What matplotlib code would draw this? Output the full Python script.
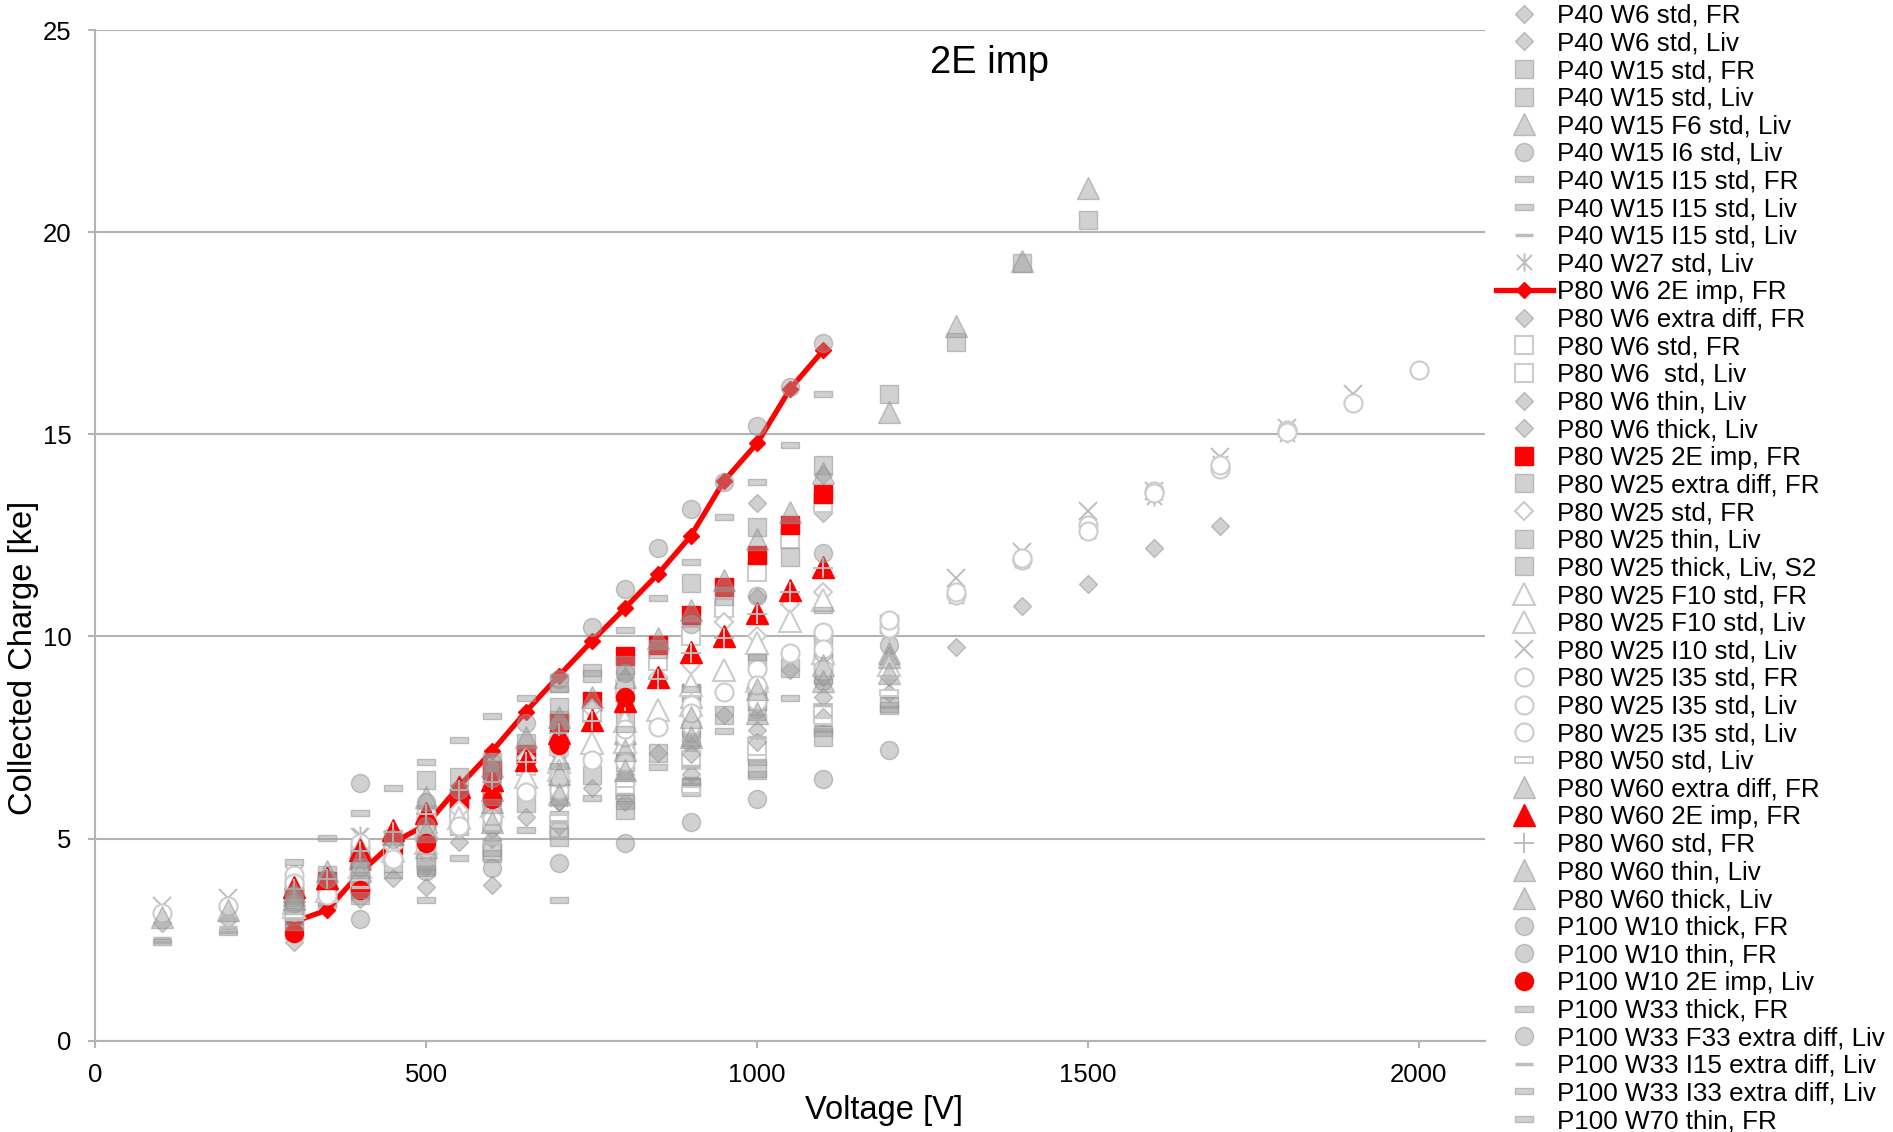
import matplotlib
matplotlib.use('Agg')
import matplotlib.pyplot as plt
from matplotlib.path import Path

plt.rcParams['font.family'] = ['Liberation Sans', 'DejaVu Sans']

# ---------------- data ----------------
V_FR = [300, 350, 400, 450, 500, 550, 600, 650, 700, 750, 800, 850, 900, 950, 1000, 1050, 1100]
V_FR100 = [300, 400, 500, 600, 700, 800, 900, 1000, 1100]
V_FR_EXT = V_FR + [1200, 1300, 1400, 1500]
V_100_1100 = [100, 200, 300, 400, 500, 600, 700, 800, 900, 1000, 1100]
V_100_1200 = [100, 200, 300, 400, 500, 600, 700, 800, 900, 1000, 1100, 1200]
V_300_1100 = [300, 400, 500, 600, 700, 800, 900, 1000, 1100]
V_300_1200 = [300, 400, 500, 600, 700, 800, 900, 1000, 1100, 1200]
V_300_1700 = [300, 400, 500, 600, 700, 800, 900, 1000, 1100, 1200, 1300, 1400, 1500, 1600, 1700]
V_300_1800 = [300, 400, 500, 600, 700, 800, 900, 1000, 1100, 1200, 1300, 1400, 1500, 1600, 1700, 1800]
V_X = [100, 200, 300, 400, 500, 600, 700, 800, 900, 1000, 1100, 1200, 1300, 1400, 1500, 1600, 1700, 1800, 1900]
V_I35B = [300, 400, 500, 600, 700, 800, 900, 1000, 1100, 1200, 1300, 1400, 1500, 1600, 1700, 1800, 2000]
V_2E_LIV = [300, 400, 500, 600, 700, 800]
V_400_1200 = [400, 500, 600, 700, 800, 900, 1000, 1100, 1200]

q_p40_w6_fr = [2.90, 3.45, 3.80, 4.02, 4.30, 4.92, 5.20, 5.54, 5.90, 6.24, 6.60, 7.11, 7.30, 8.06, 8.30, 9.17, 9.00]
q_p40_w6_liv = [2.90, 2.99, 3.40, 4.30, 5.00, 5.80, 7.10, 8.30, 9.90, 13.29, 14.00]
q_p40_w15_fr = [3.10, 3.50, 3.90, 4.40, 4.60, 5.30, 5.40, 5.87, 6.20, 6.57, 6.90, 7.11, 7.50, 8.06, 8.50, 9.21, 9.40]
q_p40_w15_liv = [3.60, 4.40, 5.10, 5.60, 8.26, 7.30, 8.60, 8.40, 9.40]
q_p40_w15_f6_liv = [3.50, 4.50, 5.40, 6.20, 7.00, 7.60, 8.50, 9.00, 9.60, 9.60]
q_p40_w15_i6_liv = [3.30, 4.20, 5.10, 5.50, 6.30, 7.00, 7.60, 8.20, 8.90, 9.80]
q_p40_w15_i15_fr = [2.60, 3.40, 3.60, 4.10, 4.20, 4.51, 4.90, 5.21, 5.60, 6.00, 6.40, 6.78, 7.10, 7.65, 8.00, 8.47, 8.90]
q_p40_w15_i15_liv = [3.00, 3.70, 4.30, 4.80, 5.30, 5.80, 6.30, 6.60, 7.60, 8.30]
q_p40_w15_i15_liv2 = [2.45, 2.70, 2.90, 3.90, 4.50, 5.00, 5.50, 6.10, 6.50, 7.10, 7.80, 8.50]
q_p40_w27_liv = [4.00, 5.09, 5.50, 6.00, 6.40, 7.30, 7.80, 8.60, 9.50, 10.10, 11.00, 11.90, 12.60, 13.45, 14.30, 15.00]
q_p80_w6_2e_fr = [2.94, 3.23, 4.15, 4.90, 5.34, 6.30, 7.17, 8.13, 9.02, 9.88, 10.70, 11.54, 12.49, 13.85, 14.78, 16.13, 17.08]
q_p80_w6_xd_fr = [3.40, 4.50, 5.50, 6.60, 7.70, 9.00, 10.20, 10.98, 13.05]
q_p80_w6_std_fr = [3.30, 3.80, 4.20, 4.60, 5.00, 5.60, 6.00, 6.80, 7.30, 8.10, 8.70, 9.40, 10.00, 10.70, 11.60, 12.40, 13.30]
q_p80_w6_std_liv = [3.20, 3.90, 4.50, 4.70, 5.25, 6.20, 6.95, 7.27, 8.10]
q_p80_w6_thin_liv = [2.45, 3.50, 3.81, 3.85, 5.30, 5.90, 6.60, 7.40, 8.00, 8.60]
q_p80_w6_thick_liv = [3.20, 3.90, 4.40, 5.00, 5.90, 6.50, 7.10, 7.69, 8.51, 9.00, 9.75, 10.75, 11.30, 12.20, 12.72]
q_p80_w25_2e_fr = [3.55, 3.95, 4.45, 4.85, 5.30, 5.95, 6.70, 7.10, 7.85, 8.40, 9.52, 9.78, 10.52, 11.22, 12.01, 12.75, 13.52]
q_p80_w25_xd_fr = [3.70, 4.10, 4.60, 5.00, 6.45, 6.53, 6.90, 7.36, 8.84, 9.10, 9.30, 9.70, 11.31, 11.00, 12.70, 11.97, 14.24, 16.00, 17.29, 19.25, 20.30]
q_p80_w25_std_fr = [3.50, 3.90, 4.40, 4.80, 5.40, 5.70, 6.30, 7.00, 7.20, 8.20, 8.20, 9.00, 9.30, 10.35, 10.00, 10.80, 11.10]
q_p80_w25_thin_liv = [3.80, 4.60, 5.60, 6.10, 7.93, 8.00, 8.60, 9.42, 9.90, 10.30]
q_p80_w25_thick_liv = [2.90, 3.60, 4.30, 4.63, 5.05, 5.71, 6.28, 6.70, 7.52, 8.30]
q_p80_w25_f10_fr = [3.30, 3.70, 4.30, 4.70, 4.90, 5.50, 5.80, 6.53, 6.90, 7.36, 7.90, 8.18, 8.80, 9.17, 9.83, 10.37, 10.90]
q_p80_w25_f10_liv = [3.40, 4.30, 5.30, 5.80, 6.70, 7.40, 8.30, 8.90, 9.60, 9.30]
q_p80_w25_i10_liv = [3.32, 3.52, 4.10, 5.05, 5.30, 5.60, 6.00, 6.80, 7.60, 8.50, 9.30, 10.30, 11.44, 12.10, 13.10, 13.60, 14.45, 15.15, 16.00]
q_p80_w25_i35_fr = [3.20, 3.60, 4.10, 4.50, 4.75, 5.30, 5.60, 6.16, 6.60, 6.94, 7.50, 7.77, 8.30, 8.63, 9.20, 9.58, 10.12]
q_p80_w25_i35_liv = [3.15, 3.32, 4.10, 4.80, 5.20, 5.50, 6.20, 6.90, 7.80, 8.40, 9.20, 10.20, 11.03, 11.90, 12.75, 13.60, 14.15, 15.10, 15.77]
q_p80_w25_i35_liv2 = [3.90, 4.90, 5.60, 6.30, 6.50, 7.70, 8.10, 8.80, 9.70, 10.40, 11.10, 11.95, 12.60, 13.55, 14.25, 15.05, 16.58]
q_p80_w50_liv = [3.10, 4.00, 4.70, 5.25, 5.50, 6.35, 6.20, 7.00, 7.90, 8.60]
q_p80_w60_xd_fr = [3.60, 4.20, 4.80, 5.10, 6.04, 6.30, 6.80, 7.50, 8.00, 8.50, 9.00, 9.95, 10.66, 11.40, 12.40, 13.09, 14.04, 15.56, 17.67, 19.30, 21.10]
q_p80_w60_2e_fr = [3.81, 4.02, 4.72, 5.21, 5.63, 6.28, 6.45, 6.94, 7.62, 7.93, 8.40, 9.00, 9.62, 10.00, 10.57, 11.15, 11.73]
q_p80_w60_std_fr = [3.75, 4.00, 4.68, 5.15, 5.60, 6.20, 6.40, 6.90, 7.60, 7.90, 8.40, 8.95, 9.60, 9.95, 10.55, 11.10, 11.70]
q_p80_w60_thin_liv = [3.07, 3.23, 3.70, 4.55, 5.20, 5.90, 6.60, 7.20, 8.00, 8.70, 9.30, 9.50]
q_p80_w60_thick_liv = [3.50, 4.20, 4.80, 5.40, 6.10, 6.70, 7.50, 8.10, 8.90, 9.10]
q_p100_w10_thick_fr = [3.60, 4.00, 6.37, 5.00, 5.90, 6.20, 6.90, 7.85, 8.95, 10.24, 11.17, 12.20, 13.15, 13.83, 15.20, 16.18, 17.25]
q_p100_w10_thin_fr = [3.40, 4.30, 5.30, 6.50, 7.80, 9.10, 10.30, 11.00, 12.06]
q_p100_w10_2e_liv = [2.66, 3.73, 4.88, 5.97, 7.31, 8.51]
q_p100_w33_thick_fr = [4.41, 5.01, 5.64, 6.24, 6.89, 7.44, 8.03, 8.47, 8.70, 9.09, 10.16, 10.94, 11.83, 12.96, 13.81, 14.74, 16.00]
q_p100_w33_f33_liv = [3.00, 4.20, 4.26, 4.39, 4.88, 5.42, 5.97, 6.47, 7.19]
q_p100_w33_i15_liv = [2.55, 2.80, 3.00, 3.80, 4.40, 4.90, 5.40, 6.10, 6.80, 7.50, 8.30, 9.00]
q_p100_w33_i33_liv = [2.43, 2.70, 2.80, 3.60, 3.48, 4.65, 3.48, 6.00, 6.40, 6.90, 7.70, 8.20]
q_p100_w70_thin_fr = [3.20, 4.10, 5.00, 5.90, 6.80, 7.70, 8.70, 9.50, 10.66]

SERIES = [
    ("P40 W6 std, FR", V_FR, q_p40_w6_fr, "D"),
    ("P40 W6 std, Liv", V_100_1100, q_p40_w6_liv, "D"),
    ("P40 W15 std, FR", V_FR, q_p40_w15_fr, "s"),
    ("P40 W15 std, Liv", V_300_1100, q_p40_w15_liv, "s"),
    ("P40 W15 F6 std, Liv", V_300_1200, q_p40_w15_f6_liv, "^"),
    ("P40 W15 I6 std, Liv", V_300_1200, q_p40_w15_i6_liv, "o"),
    ("P40 W15 I15 std, FR", V_FR, q_p40_w15_i15_fr, "dash"),
    ("P40 W15 I15 std, Liv", V_300_1200, q_p40_w15_i15_liv, "dash"),
    ("P40 W15 I15 std, Liv", V_100_1200, q_p40_w15_i15_liv2, "thin"),
    ("P40 W27 std, Liv", V_300_1800, q_p40_w27_liv, "aster"),
    ("P80 W6 2E imp, FR", V_FR, q_p80_w6_2e_fr, "redline"),
    ("P80 W6 extra diff, FR", V_FR100, q_p80_w6_xd_fr, "D"),
    ("P80 W6 std, FR", V_FR, q_p80_w6_std_fr, "s_open"),
    ("P80 W6  std, Liv", V_300_1100, q_p80_w6_std_liv, "s_open"),
    ("P80 W6 thin, Liv", V_300_1200, q_p80_w6_thin_liv, "D"),
    ("P80 W6 thick, Liv", V_300_1700, q_p80_w6_thick_liv, "D"),
    ("P80 W25 2E imp, FR", V_FR, q_p80_w25_2e_fr, "s_red"),
    ("P80 W25 extra diff, FR", V_FR_EXT, q_p80_w25_xd_fr, "s"),
    ("P80 W25 std, FR", V_FR, q_p80_w25_std_fr, "D_open"),
    ("P80 W25 thin, Liv", V_300_1200, q_p80_w25_thin_liv, "s"),
    ("P80 W25 thick, Liv, S2", V_300_1200, q_p80_w25_thick_liv, "s"),
    ("P80 W25 F10 std, FR", V_FR, q_p80_w25_f10_fr, "^_open"),
    ("P80 W25 F10 std, Liv", V_300_1200, q_p80_w25_f10_liv, "^_open"),
    ("P80 W25 I10 std, Liv", V_X, q_p80_w25_i10_liv, "x"),
    ("P80 W25 I35 std, FR", V_FR, q_p80_w25_i35_fr, "o_open"),
    ("P80 W25 I35 std, Liv", V_X, q_p80_w25_i35_liv, "o_open"),
    ("P80 W25 I35 std, Liv", V_I35B, q_p80_w25_i35_liv2, "o_open"),
    ("P80 W50 std, Liv", V_300_1200, q_p80_w50_liv, "dash_open"),
    ("P80 W60 extra diff, FR", V_FR_EXT, q_p80_w60_xd_fr, "^"),
    ("P80 W60 2E imp, FR", V_FR, q_p80_w60_2e_fr, "^_red"),
    ("P80 W60 std, FR", V_FR, q_p80_w60_std_fr, "+"),
    ("P80 W60 thin, Liv", V_100_1200, q_p80_w60_thin_liv, "^"),
    ("P80 W60 thick, Liv", V_300_1200, q_p80_w60_thick_liv, "^"),
    ("P100 W10 thick, FR", V_FR, q_p100_w10_thick_fr, "o"),
    ("P100 W10 thin, FR", V_FR100, q_p100_w10_thin_fr, "o"),
    ("P100 W10 2E imp, Liv", V_2E_LIV, q_p100_w10_2e_liv, "o_red"),
    ("P100 W33 thick, FR", V_FR, q_p100_w33_thick_fr, "dash"),
    ("P100 W33 F33 extra diff, Liv", V_400_1200, q_p100_w33_f33_liv, "o"),
    ("P100 W33 I15 extra diff, Liv", V_100_1200, q_p100_w33_i15_liv, "thin"),
    ("P100 W33 I33 extra diff, Liv", V_100_1200, q_p100_w33_i33_liv, "dash"),
    ("P100 W70 thin, FR", V_FR100, q_p100_w70_thin_fr, "dash"),
]

# ---------------- styles ----------------
DASH = [(-1, -0.28), (1, -0.28), (1, 0.28), (-1, 0.28), (-1, -0.28)]
ASTER = Path([(-1, -1), (1, 1), (-1, 1), (1, -1), (0, -1.2), (0, 1.2)],
             [Path.MOVETO, Path.LINETO, Path.MOVETO, Path.LINETO, Path.MOVETO, Path.LINETO])

G_FACE = (0.62, 0.62, 0.62, 0.47)
G_EDGE = (0.58, 0.58, 0.58, 0.55)
O_EDGE = (0.80, 0.80, 0.80)
L_COL = (0.74, 0.74, 0.74)
RED = '#ff0000'

def filled(m, ms):
    return dict(marker=m, ms=ms, mfc=G_FACE, mec=G_EDGE, mew=1.0)

def hollow(m, ms):
    return dict(marker=m, ms=ms, mfc='white', mec=O_EDGE, mew=1.5)

def red(m, ms):
    return dict(marker=m, ms=ms, mfc=RED, mec=RED, mew=1.0)

STY = {
    "D": filled('D', 9.3),
    "s": filled('s', 13),
    "^": filled('^', 16),
    "o": filled('o', 13),
    "dash": filled(DASH, 13),
    "thin": dict(marker='_', ms=13, mec=L_COL, mew=2.5),
    "aster": dict(marker=ASTER, ms=13, mfc='none', mec=L_COL, mew=1.4),
    "x": dict(marker='x', ms=13, mec=L_COL, mew=1.4),
    "+": dict(marker='+', ms=14, mec=L_COL, mew=1.4),
    "s_open": hollow('s', 13),
    "D_open": hollow('D', 9.3),
    "^_open": hollow('^', 16),
    "o_open": hollow('o', 13),
    "dash_open": hollow(DASH, 13),
    "s_red": red('s', 13),
    "^_red": red('^', 16),
    "o_red": red('o', 13),
}

# ---------------- figure ----------------
fig = plt.figure(figsize=(18.93, 11.32), dpi=100)
ax = fig.add_axes([0.0504, 0.0807, 0.7341, 0.8927])

for label, xs, ys, st in SERIES:
    if st == "redline":
        ax.plot(xs, ys, color=RED, lw=3.8, marker='D', ms=8, mfc=RED, mec=RED,
                label=label, solid_joinstyle='round')
    else:
        ax.plot(xs, ys, linestyle='none', label=label, **STY[st])

ax.set_xlim(0, 2100)
ax.set_ylim(0, 25)
ax.set_xticks([0, 500, 1000, 1500, 2000])
ax.set_yticks([0, 5, 10, 15, 20, 25])
ax.yaxis.grid(True, color='#b3b3b3', lw=1.5)
ax.set_axisbelow(True)
for s in ('top', 'right'):
    ax.spines[s].set_visible(False)
for s in ('left', 'bottom'):
    ax.spines[s].set_color('#b3b3b3')
    ax.spines[s].set_linewidth(1.5)
ax.tick_params(axis='both', direction='out', length=5, width=1.5, color='#b3b3b3',
               labelsize=18.5, labelcolor='black')
ax.tick_params(axis='x', pad=11)
ax.tick_params(axis='y', pad=12)

fig.text(884 / 1893, 1 - 1111 / 1132, 'Voltage [V]', ha='center', va='center', fontsize=23.5)
fig.text(24 / 1893, 1 - 658 / 1132, 'Collected Charge [ke]', ha='center', va='center',
         rotation=90, fontsize=23.5)
fig.text(990 / 1893, 1 - 63 / 1132, '2E imp', ha='center', va='center', fontsize=27.5)

h, l = ax.get_legend_handles_labels()
fig.legend(h, l, loc='upper left', bbox_to_anchor=(1493 / 1893, 0.999),
           bbox_transform=fig.transFigure, frameon=False, fontsize=18.7,
           handlelength=2.2, handletextpad=0.15, labelspacing=0.14,
           borderpad=0.1, borderaxespad=0, numpoints=1)

fig.savefig('out.png', dpi=100)
